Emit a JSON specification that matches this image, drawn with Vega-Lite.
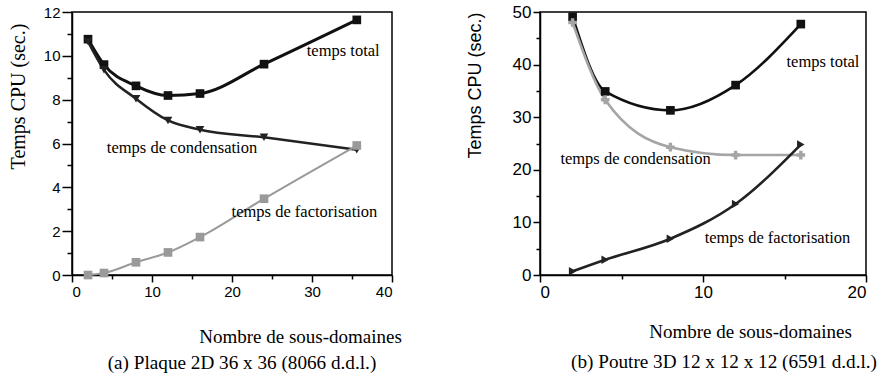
{
  "$schema": "https://vega.github.io/schema/vega-lite/v6.json",
  "padding": {"left": 7, "top": 2, "right": 5, "bottom": 3},
  "background": "white",
  "spacing": 62,
  "resolve": {"scale": {"color": "independent", "shape": "independent", "strokeWidth": "independent"}},
  "config": {
    "font": "Liberation Serif",
    "view": {"stroke": "black", "strokeWidth": 1.5},
    "axis": {
      "grid": false,
      "domainColor": "black",
      "domainWidth": 1.5,
      "tickColor": "black",
      "tickWidth": 1.5,
      "labelColor": "black",
      "labelFont": "Liberation Sans",
      "labelFontSize": 15,
      "labelPadding": 2,
      "titleColor": "black",
      "titleFont": "Liberation Serif",
      "titleFontSize": 19,
      "titleFontWeight": "normal"
    },
    "title": {"font": "Liberation Serif", "fontSize": 19.2, "fontWeight": "normal", "color": "black"}
  },
  "hconcat": [
    {
      "width": 320,
      "height": 263,
      "title": {"text": "(a) Plaque 2D 36 x 36 (8066 d.d.l.)", "orient": "bottom", "anchor": "middle", "frame": "group", "dx": 10, "offset": 8},
      "data": {"values": [
        {"serie": "total", "x": 2, "y": 10.76},
        {"serie": "total", "x": 4, "y": 9.6},
        {"serie": "total", "x": 8, "y": 8.63},
        {"serie": "total", "x": 12, "y": 8.19},
        {"serie": "total", "x": 16, "y": 8.28},
        {"serie": "total", "x": 24, "y": 9.62},
        {"serie": "total", "x": 35.6, "y": 11.64},
        {"serie": "condensation", "x": 2, "y": 10.65},
        {"serie": "condensation", "x": 4, "y": 9.36},
        {"serie": "condensation", "x": 8, "y": 8.04},
        {"serie": "condensation", "x": 12, "y": 7.05},
        {"serie": "condensation", "x": 16, "y": 6.63},
        {"serie": "condensation", "x": 24, "y": 6.28},
        {"serie": "condensation", "x": 35.6, "y": 5.71},
        {"serie": "factorisation", "x": 2, "y": 0},
        {"serie": "factorisation", "x": 4, "y": 0.09},
        {"serie": "factorisation", "x": 8, "y": 0.58},
        {"serie": "factorisation", "x": 12, "y": 1.03},
        {"serie": "factorisation", "x": 16, "y": 1.73},
        {"serie": "factorisation", "x": 24, "y": 3.48},
        {"serie": "factorisation", "x": 35.6, "y": 5.91}
      ]},
      "encoding": {
        "x": {"field": "x", "type": "quantitative", "scale": {"domain": [0, 40], "nice": false},
              "axis": {"values": [0, 5, 10, 15, 20, 25, 30, 35, 40], "labelExpr": "datum.value % 10 == 0 ? datum.label : ''",
                       "tickSize": {"condition": {"test": "datum.value % 10 == 0", "value": 7}, "value": 4},
                       "title": "Nombre de sous-domaines", "titleX": 228, "titlePadding": 28}},
        "y": {"field": "y", "type": "quantitative", "scale": {"domain": [0, 12], "nice": false},
              "axis": {"values": [0, 1, 2, 3, 4, 5, 6, 7, 8, 9, 10, 11, 12], "labelExpr": "datum.value % 2 == 0 ? datum.label : ''",
                       "tickSize": {"condition": {"test": "datum.value % 2 == 0", "value": 10}, "value": 5},
                       "title": "Temps CPU (sec.)", "titleFontSize": 20, "titleY": 84, "titlePadding": 15}}
      },
      "layer": [
        {
          "mark": {"type": "line", "interpolate": "monotone"},
          "encoding": {
            "color": {"field": "serie", "type": "nominal", "legend": null,
                      "scale": {"domain": ["total", "condensation", "factorisation"], "range": ["#111111", "#222222", "#9a9a9a"]}},
            "strokeWidth": {"field": "serie", "type": "nominal", "legend": null,
                      "scale": {"domain": ["total", "condensation", "factorisation"], "range": [3, 2, 2]}}
          }
        },
        {
          "mark": {"type": "point", "filled": true, "size": 75, "opacity": 1},
          "encoding": {
            "color": {"field": "serie", "type": "nominal", "legend": null,
                      "scale": {"domain": ["total", "condensation", "factorisation"], "range": ["#111111", "#222222", "#9a9a9a"]}},
            "shape": {"field": "serie", "type": "nominal", "legend": null,
                      "scale": {"domain": ["total", "condensation", "factorisation"], "range": ["square", "triangle-down", "square"]}}
          }
        },
        {
          "data": {"values": [
            {"label": "temps total", "x": 33.9, "y": 10.22},
            {"label": "temps de condensation", "x": 13.75, "y": 5.79},
            {"label": "temps de factorisation", "x": 29.06, "y": 2.87}
          ]},
          "mark": {"type": "text", "fontSize": 16.5, "font": "Liberation Serif", "color": "black"},
          "encoding": {"text": {"field": "label"}}
        }
      ]
    },
    {
      "width": 326,
      "height": 263,
      "title": {"text": "(b) Poutre 3D 12 x 12 x 12 (6591 d.d.l.)", "orient": "bottom", "anchor": "middle", "frame": "group", "dx": 21, "offset": 12},
      "data": {"values": [
        {"serie": "total", "x": 2, "y": 49.1},
        {"serie": "total", "x": 4, "y": 34.9},
        {"serie": "total", "x": 8, "y": 31.3},
        {"serie": "total", "x": 12, "y": 36.1},
        {"serie": "total", "x": 16, "y": 47.7},
        {"serie": "condensation", "x": 2, "y": 48.0},
        {"serie": "condensation", "x": 4, "y": 33.3},
        {"serie": "condensation", "x": 8, "y": 24.3},
        {"serie": "condensation", "x": 12, "y": 22.8},
        {"serie": "condensation", "x": 16, "y": 22.8},
        {"serie": "factorisation", "x": 2, "y": 0.7},
        {"serie": "factorisation", "x": 4, "y": 2.9},
        {"serie": "factorisation", "x": 8, "y": 6.9},
        {"serie": "factorisation", "x": 12, "y": 13.5},
        {"serie": "factorisation", "x": 16, "y": 24.8}
      ]},
      "encoding": {
        "x": {"field": "x", "type": "quantitative", "scale": {"domain": [0, 20], "nice": false},
              "axis": {"values": [0, 5, 10, 15, 20], "labelExpr": "datum.value % 10 == 0 ? datum.label : ''",
                       "labelFontSize": 17,
                       "tickSize": {"condition": {"test": "datum.value % 10 == 0", "value": 7}, "value": 4},
                       "title": "Nombre de sous-domaines", "titleX": 210, "titlePadding": 22}},
        "y": {"field": "y", "type": "quantitative", "scale": {"domain": [0, 50], "nice": false},
              "axis": {"values": [0, 5, 10, 15, 20, 25, 30, 35, 40, 45, 50], "labelExpr": "datum.value % 10 == 0 ? datum.label : ''",
                       "labelFontSize": 17,
                       "tickSize": {"condition": {"test": "datum.value % 10 == 0", "value": 7}, "value": 4},
                       "title": "Temps CPU (sec.)", "titleFont": "Liberation Sans", "titleFontSize": 18, "titleY": 73, "titlePadding": 28}}
      },
      "layer": [
        {
          "mark": {"type": "line", "interpolate": "monotone"},
          "encoding": {
            "color": {"field": "serie", "type": "nominal", "legend": null,
                      "scale": {"domain": ["total", "condensation", "factorisation"], "range": ["#111111", "#a5a5a5", "#222222"]}},
            "strokeWidth": {"field": "serie", "type": "nominal", "legend": null,
                      "scale": {"domain": ["total", "condensation", "factorisation"], "range": [2.6, 2.6, 2]}}
          }
        },
        {
          "mark": {"type": "point", "filled": true, "size": 75, "opacity": 1},
          "encoding": {
            "color": {"field": "serie", "type": "nominal", "legend": null,
                      "scale": {"domain": ["total", "condensation", "factorisation"], "range": ["#111111", "#a5a5a5", "#222222"]}},
            "shape": {"field": "serie", "type": "nominal", "legend": null,
                      "scale": {"domain": ["total", "condensation", "factorisation"], "range": ["square", "cross", "triangle-right"]}}
          }
        },
        {
          "data": {"values": [
            {"label": "temps total", "x": 17.36, "y": 40.5},
            {"label": "temps de condensation", "x": 5.86, "y": 22.05},
            {"label": "temps de factorisation", "x": 14.57, "y": 7.0}
          ]},
          "mark": {"type": "text", "fontSize": 16.5, "font": "Liberation Serif", "color": "black"},
          "encoding": {"text": {"field": "label"}}
        }
      ]
    }
  ]
}
